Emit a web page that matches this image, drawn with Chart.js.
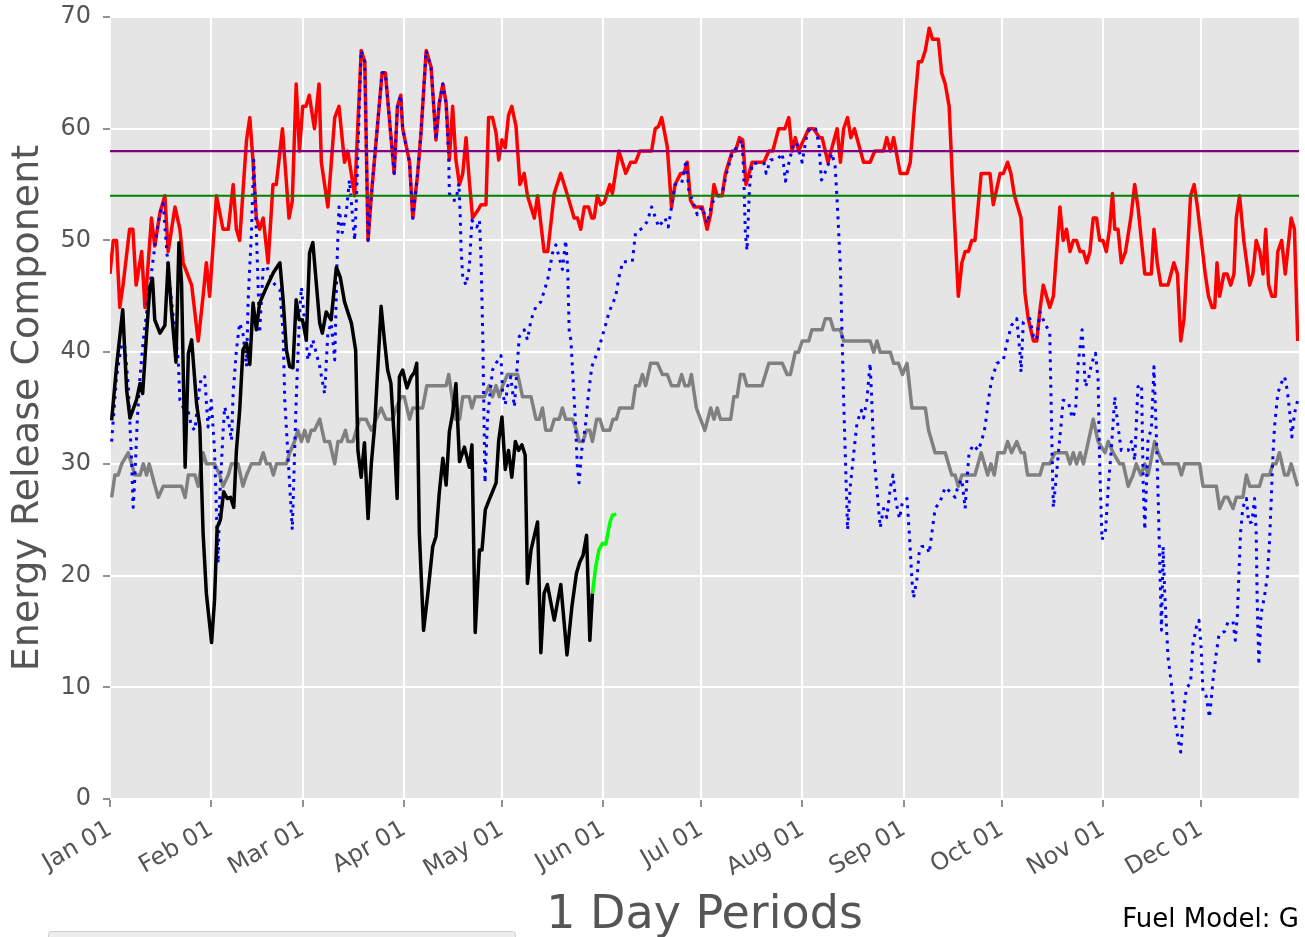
<!DOCTYPE html>
<html>
<head>
<meta charset="utf-8">
<script src="https://cdn.jsdelivr.net/npm/chart.js@4"></script>
<style>
  html, body { margin: 0; padding: 0; background: #fff; }
  #chart { display: block; }
</style>
</head>
<body>
<canvas id="chart" width="1305" height="937"></canvas>
<script>
// day of year (0 = Jan 01) and ERC values
const maxDays = [0,1,2,3,4,6,7,8,9.7,10.7,12.7,13.7,15.3,16.8,17.8,19.9,21.4,22.4,25,27,28.5,29.5,30.5,32.6,34.6,36.2,37.7,38.7,39.7,41.8,42.8,43.8,44.8,45.8,46.9,48.4,49.9,50.9,52.8,54.8,55.8,57,58,59,60,61,62.6,64,64.7,66.7,68.8,70.1,71.8,72.8,74.9,76.9,78,79,80,83.3,84.3,87,88,89,89.6,91.7,92.7,94.2,95.2,96.8,98.3,99.8,100.8,101.9,102.9,103.9,104.9,105.9,107,108,109,110,111,112.6,113.6,115.1,115.9,117.1,118.2,119,120,121,122,123,124.3,125.5,126.8,127.8,129.9,130.9,132.9,134,136,138,140.1,142.1,143.1,144.1,145.2,146.5,147.5,148.2,149.2,150.2,151.3,153,153.8,155.8,157.9,159.4,160.9,162.2,165.8,166.9,167.9,168.9,170.6,171.9,173,174.7,175.7,176.7,177.7,178.8,181.3,182.8,183.9,184.9,185.9,187.4,188.4,190.5,191.5,192.7,193.7,194.7,196.6,200.2,201.7,202.9,204.7,206.6,207.8,208.8,209.8,210.8,213.9,215.4,217.2,218,219.8,222.6,223.6,224.6,225.8,226.8,227.9,230.7,232.7,234.1,236.8,237.8,238.9,239.9,241.9,244,245,246.3,247.5,248.5,249.6,250.8,251.8,253.6,254.6,255.7,256.9,257.9,259.7,260.8,261.8,262.8,263.8,264.8,266.7,269.4,270.4,272.5,273.5,274.8,275.8,276.9,278.9,280.1,281.1,282.7,283.7,284.7,285.7,287.7,288.8,289.8,290.8,291.8,292.8,293.9,294.9,295.9,297,298,299,300,301,302,303,304,305,306,306.9,307.6,308.6,309.6,310.9,312.5,313.7,314.7,316.8,318.8,319.6,320.6,321.7,323.9,325.7,326.8,327.8,328.8,330.8,331.9,332.9,334.1,335.3,336.3,337.4,338.2,338.9,339.7,341,342,343.1,344.1,344.8,345.8,347.1,348.9,349.9,350.9,352,353,353.8,354.7,355.7,356.7,357.5,358.7,359.8,361.6,362.6,363.6];
const maxVals = [47,50,50,44,46,51,51,46,49,44,52,49.5,52.5,54,49,53,51,48,46,41,45,48,45,54,51,51,55,51,50,59,61,57,52,51,52,48,55,55,60,52,53.5,64,58,62,62,63,60,64,57,53,61,62,57,58,54,67,66,50,54,65,65,56,62,63,60,57,52,56,59.6,67,65.5,59,62.3,64,62.3,57.2,62,57.2,55,56,59.2,55.3,52,52.7,53.2,53.2,61,61,59.6,57.2,59,58.3,61.2,62,60.2,55,56,54,52,54,49,49,54.2,56,54,52,52,51,53,53,52,52,54,53.2,53.4,55,54.2,58,56,57,57,58,58,60,60.2,61,58.4,53,55,56,56,57,53.6,53,53,51,52.4,55,54,54,56,58,58,59.2,59,55,57,57,58,58,60,60,61,58,59.2,58,60,60,59.2,59.2,57,60,57,60,61,59.2,60,57,57,58,58,59.2,58,59.2,56,56,57,62,66,66,67,69,68,68,65,64,62,55.4,45,48,49,49,50,50,56,56,53.2,56,56,57,56,54,52,45.3,43,41,41,43.8,46,44,45,49,53,50,51,49,50,50,49,49,48,49,52,52,50,50,49,51,54.2,51,51,48,49,52,55,53,47,47,51,48,46,46,48,47,41,43,54,55,53,50,47,45,44,44,48,45,47,47,46,47,52,54,50,46,47,50,49,47,51,46,45,45,49,50,47,52,51,41];

const minDays = [0.5,2,3.6,4.6,5.6,6.6,7.1,7.6,8.4,9.2,10.2,11.7,13.2,14.3,15.3,16.3,16.8,17.8,18.8,19.9,20.9,21.4,22.5,24,25,26,27,28,29,30,31,32,32.6,33.1,33.6,34.6,35.1,36.2,37.2,37.7,38.7,39.7,40.7,41.8,42.3,43.3,44,44.8,45.8,46.9,47.9,50,52,53,53.5,55.8,57,58,58.6,59.6,60.6,62.1,64.2,65.7,66.7,67.7,68.8,69.5,70.1,71.1,72.3,73.3,74.9,75.4,76.4,76.9,78,79,80,83.3,84.3,87,88,89,89.6,91.7,92.7,94.2,95.2,96.8,98.3,99.8,100.8,101.9,102.9,103.7,103.9,104.9,105.9,106.8,107.2,107.5,108,109,110,110.8,112.3,113.1,113.6,114.1,114.8,115.6,117.1,118.2,119.7,120.2,121,121.7,122.7,123.8,124.5,125.3,126.8,127.8,128.9,130.4,131.9,134,135.5,136.5,138.5,139.5,140.1,140.6,141.1,142.4,143.1,143.6,144.4,145.5,146.5,147.5,149.5,151.3,152.8,154.8,155.8,157,159.9,160.9,163,164.5,165.8,166.9,168,169.9,170.9,171.9,173,175,176.4,177.2,178.3,179.8,181.3,182.8,184.4,185.9,187.4,189,190.5,192,193.5,194,194.5,195,195.8,196.6,200.2,200.9,202.2,204.5,205.8,206.8,207.8,209.3,210.3,211.9,213.4,214.4,216,217,217.8,218.8,220,221,222,222.6,223.6,224.1,224.6,225.8,226.6,227.7,228.7,230,230.7,231.7,232.7,233.3,233.8,234.8,235.8,236.8,237.8,238.9,239.7,240.6,241.7,242.6,244,244.7,245.5,246,247,247.7,248.5,250.1,250.8,251.6,252.6,254.1,255.7,257.2,258.7,259.7,260.8,261.8,262.3,263,264.3,265.8,266.9,267.9,268.9,269.9,271.5,273.5,274.5,276,277.6,278.1,278.6,278.9,279.6,281.6,282.7,283.7,284.7,285.7,287.7,288.1,288.5,288.8,289.8,290.5,291.1,291.8,293.4,294.6,295.6,296.4,297.6,298.6,299.5,300.5,301.7,302.5,303,303.7,304.8,305.6,306.6,307.6,308.6,309.6,311.7,312.7,313.7,314.7,315.8,316.3,316.8,317.8,318.8,319.6,320.3,320.9,321.4,321.9,322.4,322.9,323.9,324.9,326,327,327.8,328.5,329.5,330.8,331.5,332.6,333.4,334.1,334.6,335.6,336.6,337.7,338.7,339.5,341.2,342.2,343.8,344.5,345.1,345.5,346.1,346.8,347.9,348.6,349.6,350.4,350.9,351.2,351.7,352.4,353.4,354.3,355,355.5,356,356.5,357.5,358.5,359.6,360.4,361.1,361.8,362.6,363.6];
const minVals = [32,37.8,40.8,40.4,36.9,30.3,26.1,28.8,34.2,37.8,41.1,44.7,48.3,50.7,52.4,53.3,51.2,47.6,44.7,41.7,39.3,35.7,35,34.6,33.3,33,36,37.8,37.8,33.3,35.7,31.2,25.6,21.1,27,32.8,35.1,34,32.1,36.3,40.2,42.6,41.7,38.7,44.7,50.7,57.2,50.9,41.7,47.6,47.7,46.2,45.6,41.7,35.7,24.1,35.7,43.2,45.8,42.6,39.3,41.1,38.7,36.3,41.7,42.6,39.3,48,53,50.7,52.4,55.4,50,53.4,62.6,67,66,50,54,65,65,56,62,63,60,57,52,56,59.6,67,65.5,59,62.3,64,62.3,57.2,54.2,53.6,53.6,55.1,52.4,49.1,46.7,46,47.6,51.8,51.2,51.8,48.3,41.7,28.3,34.2,38.4,39,39.7,36.3,35.3,36.9,37.8,35.1,38.1,41.4,42,41.1,42.9,44.1,44.5,46.5,48.9,49.6,47.4,50,47.6,41.7,41.1,34.2,29.7,28.3,31.2,33.3,36.3,38.7,40.2,42,43.6,45,46.7,48.1,48.1,50.7,51.1,51.7,53,52.1,51.2,52,51.2,53,55,55.1,57.2,54.5,53.6,52.3,53,51.5,53.4,53.9,54.2,56.3,57.8,58.4,59,56,50.7,49.1,54.8,56.9,56.9,56,57.2,57.3,57.8,55.3,56.9,58.7,58.7,57,59.6,60,60,58.7,55.4,56,56.9,57.8,56.6,53.6,47.6,41.7,35.7,24.1,27.9,31,33.7,34.8,34.1,35.7,39,35.1,31,27.7,24.3,26,25.2,27.9,29,26.6,25.1,26.6,26.9,23.8,19.6,18,19.6,22,22.6,22.6,22,23.8,26,26.6,27.9,27.5,27,28.1,28.6,26,28.4,31,31.7,31.2,32.1,33.3,35.7,37.5,39,39.3,40.8,42.4,43,41.4,39.9,38.2,42.7,43,41.4,41.1,43.6,42.9,41.7,35.7,29.7,26.1,29.2,31.5,33.3,35.7,35.5,34.1,34.8,39,42,36.9,37.5,39,39.9,37.5,29.7,23.2,24.1,27.9,31.5,36,33.3,31.2,31.2,32,30.3,36.9,37.1,28.3,24.1,32.4,33,38.7,32.8,26.8,20.8,15.1,22.6,18.4,12.7,10.4,7.1,5.3,4.2,7.3,9.9,10.4,13.8,15.4,16,13.3,9.5,9.2,7.3,10.7,13.1,14.7,15,15.8,15.9,14.2,16.3,19.3,23.8,26.1,26.9,24.7,24.8,26.9,23.8,17.8,12,16.6,18.1,19.9,23.2,26.8,30.6,33.3,36.3,37.2,37.8,36.6,34.8,32.4,34.5,35.7];

const avgDays = [0.5,1.5,2.5,3.6,5.6,6.6,7.6,9.2,10.2,11.2,12,13.8,14.8,16.3,21.9,23,24,26,27,28.5,29.5,32,33.6,34.6,36.2,37.2,39.2,40.7,41.8,43.3,45.8,46.9,47.9,49,50,51,54,55,56.5,57.5,58.6,59.6,60.6,61.6,62.6,64.2,65.7,67.2,68.8,69.8,70.8,72.1,72.8,74.4,75.4,76.4,78.4,80,81.5,83,84.5,86.6,87.6,89.1,90.1,91.7,92.7,95.7,97,102.9,103.7,104.7,105.7,107,108,110,110.8,111.8,114.6,116.1,117.1,118.2,119.2,120.2,121.7,124.8,126.3,128.9,130.4,131.4,132.4,133.4,135,136,137.5,138.5,139.5,141.6,142.8,143.6,144.8,145.9,146.9,147.7,149,150,151,153,154,155,156,159.9,160.9,162,163,164,165.5,167.6,169.1,170.6,171.9,174,175,176,177.2,178,179.5,180.8,182.1,183.9,184.9,185.9,186.9,190,191,192,193,194,195,199.6,201.7,205.8,207.3,208.3,209.8,210.8,211.9,213.9,214.9,218,219,220.5,221.5,223.6,224.6,232.7,233.8,234.8,235.8,238.9,239.9,241.4,242.6,244,245.5,249.6,250.6,252.6,255.7,257.7,258.7,259.7,260.8,264.8,266.7,268.7,269.7,270.7,271.8,273.8,274.8,276,277.6,278.9,279.9,280.9,284.7,285.7,287.7,289.3,292.8,293.9,294.9,295.9,297,298,299.5,301,302.5,304.6,305.6,307.1,309.1,310.2,311.7,313.2,314.2,315.6,316.8,317.8,319.8,320.9,322.4,327,328,329,333.6,334.6,338.7,339.7,341.2,342.2,343.8,344.8,346.8,347.9,348.9,351.9,352.9,355,356,357,358,359.6,360.6,361.6,362.6,363.6];
const avgVals = [27,29,29,30,31,30,29,29,30,29,30,28,27,28,28,27,29,29,28,31,30,30,29,28,29,30,30,28,29,30,30,31,30,30,29,30,30,31,32,33,32,33,32,33,33,34,32,32,30,32,32,33,32,32,33,34,34,33,34,35,34,34,35,36,36,34,35,35,37,37,38,36,34,34,36,36,35,36,36,37,36,37,36,37,38,38,36,36,34,34,35,33,33,34,34,35,34,34,33,32,32,33,33,32,34,34,33,33,34,34,35,35,37,37,38,37,39,39,38,38,37,37,38,37,37,38,35,34,33,35,34,35,34,34,36,36,38,38,37,37,39,39,38,38,40,40,41,41,42,42,43,43,42,42,41,41,40,41,40,40,39,39,38,39,35,35,33,31,31,29,29,28,29,29,31,29,30,29,31,31,32,31,32,31,31,29,29,30,30,31,31,30,31,30,31,30,32,34,32,31,32,31,30,30,28,29,30,29,30,29,32,31,30,30,29,30,30,28,28,26,27,27,26,27,27,29,28,28,29,29,30,30,31,29,29,30,29,28];

const curDays = [0.5,2,3.9,5.1,6.1,8.1,9.2,10,11.2,12.2,13,13.7,15.3,16.8,17.8,18.8,20.2,21.1,21.9,23,24,25,26.5,27.5,28.5,29.5,31.1,32,32.8,33.8,34.8,35.9,36.9,37.9,38.7,39.7,40.7,41.8,42.8,43.8,44.8,45.8,47.9,50,52,53,54,55,56,57,57.9,58.9,60.1,61.1,62.1,64.2,65,66.2,67.7,69.3,70.5,71.8,73.9,75.2,75.9,76.9,77.9,79,80,81,82,83,84,85,86,87.1,87.9,88.6,89.6,90.9,92.2,93.2,93.9,94.7,96,97.3,98.8,99.8,100.8,101.9,102.9,103.9,104.9,105.9,107,108.5,110,110.8,111.8,113.1,113.9,114.9,116.1,118.2,119,120,121,122,123,124.1,125.1,126.1,127.1,127.8,128.9,130.9,131.9,132.9,133.9,136,138,139.9,141.4,142.8,143.8,144.8,145.9,146.9,147.7];
const curVals = [33.9,38.7,43.8,36.6,34.1,35.7,37.2,36.3,41.7,45.8,46.6,42.9,41.7,42.4,48,43.8,39.1,49.8,46.2,29.7,39.9,41.1,35.4,33.3,23.8,18.4,14,17.8,24.3,25,27.5,26.9,27,26.1,31.2,34.8,40.2,40.8,38.9,44.4,42,44.4,45.8,47.1,48,44.7,40.2,38.7,38.6,44.7,42.9,42.9,41.1,48.9,49.8,42.6,41.7,43.6,42.9,47.6,46.7,44.5,42.6,40.2,31.2,28.8,31.9,25.1,30,33.3,38.7,44.1,41.1,38.4,37.2,31.9,26.9,37.8,38.4,36.8,37.8,38.2,39,23.8,15.1,18.4,22.6,23.5,27.4,30.5,28.1,32.9,34.5,37.2,30.2,31.5,29.7,31.7,14.9,22.3,22.3,25.9,26.8,28.3,32.1,34.2,29.5,31.2,28.8,32,31.2,31.7,30.8,19.3,22.3,24.8,13.1,18.4,19.2,16,19.2,12.9,17.2,20.2,21.2,21.8,23.6,14.2,18.4];

const fcstDays = [147.7,148.7,149.7,150.8,151.8,153,153.8,155];
const fcstVals = [18.4,20.8,22.3,22.9,22.8,24.7,25.4,25.5];

// percentile lines
const upperLevel = 58;
const lowerLevel = 54;

const monthTicks = [0,31,59,90,120,151,181,212,243,273,304,334];
const monthLabels = ['Jan 01','Feb 01','Mar 01','Apr 01','May 01','Jun 01','Jul 01','Aug 01','Sep 01','Oct 01','Nov 01','Dec 01'];
const yTicks = [0,10,20,30,40,50,60,70];
const lastDay = 364;

function pts(days, vals) {
    return days.map((d, i) => ({ x: d, y: vals[i] }))
}

function line(data, color, width, order, extra) {
    return Object.assign({
        data: data,
        borderColor: color,
        borderWidth: width,
        pointRadius: 0,
        tension: 0,
        fill: false,
        borderJoinStyle: 'round',
        order: order
    }, extra || {})
}

// scale boxes are given fixed sizes so the plot lands where the reference has it
function fixBox(size) {
    return s => {
        if (s.isHorizontal()) s.height = size; else s.width = size;
        s.paddingTop = 0;
        s.paddingBottom = 0;
        s.paddingLeft = 0;
        s.paddingRight = 0;
    }
}

// gray panel behind the plot, plus the footer text and the clipped legend frame
const decor = {
    id: 'decor',
    beforeDraw(chart) {
        const { ctx, chartArea: a } = chart;
        ctx.save();
        ctx.fillStyle = '#fff';
        ctx.fillRect(0, 0, chart.width, chart.height);
        ctx.fillStyle = '#e5e5e5';
        ctx.fillRect(a.left, a.top, a.right - a.left, a.bottom - a.top);
        ctx.restore();
    },
    afterDraw(chart) {
        const { ctx } = chart;
        ctx.save();
        ctx.fillStyle = '#000';
        ctx.font = '26px "DejaVu Sans"';
        ctx.textAlign = 'right';
        ctx.textBaseline = 'alphabetic';
        ctx.fillText('Fuel Model: G', chart.chartArea.right, 927);
        ctx.fillStyle = '#ededed';
        ctx.strokeStyle = '#cfcfcf';
        ctx.lineWidth = 1;
        ctx.beginPath();
        ctx.roundRect(48.5, 931.5, 467, 20, 3);
        ctx.fill();
        ctx.stroke();
        ctx.restore();
    }
};

Chart.defaults.font.family = '"DejaVu Sans"';

new Chart(document.getElementById('chart'), {
    type: 'line',
    data: {
        datasets: [
            line(pts(maxDays, maxVals), '#ff0000', 3.5, 6),
            line(pts(avgDays, avgVals), '#808080', 3.5, 5),
            line(pts(minDays, minVals), '#0000ff', 3, 4, { borderDash: [3, 5.5], borderCapStyle: 'butt' }),
            line(pts(curDays, curVals), '#000000', 3.5, 3),
            line(pts(fcstDays, fcstVals), '#00ff00', 3.5, 2),
            line([{ x: 0, y: upperLevel }, { x: lastDay, y: upperLevel }], '#800080', 2.2, 1),
            line([{ x: 0, y: lowerLevel }, { x: lastDay, y: lowerLevel }], '#008000', 2.2, 1)
        ]
    },
    options: {
        responsive: false,
        devicePixelRatio: 1,
        animation: false,
        layout: { autoPadding: false, padding: { top: 17, right: 6, left: 0, bottom: 0 } },
        plugins: { legend: { display: false }, tooltip: { enabled: false } },
        scales: {
            x: {
                type: 'linear',
                min: 0,
                max: lastDay,
                afterBuildTicks: s => { s.ticks = monthTicks.map(v => ({ value: v })) },
                afterFit: fixBox(138),
                border: { display: false },
                grid: { color: '#ffffff', lineWidth: 2, tickColor: '#555', tickLength: 8, tickWidth: 1.3 },
                ticks: {
                    callback: (v, i) => monthLabels[i],
                    minRotation: 30,
                    maxRotation: 30,
                    color: '#555',
                    font: { size: 24 },
                    padding: 8
                },
                title: { display: true, text: '1 Day Periods', color: '#555', font: { size: 46, lineHeight: 0.9 }, padding: 0 }
            },
            y: {
                min: 0,
                max: 70,
                afterBuildTicks: s => { s.ticks = yTicks.map(v => ({ value: v })) },
                afterFit: fixBox(110),
                border: { display: false },
                grid: { color: '#ffffff', lineWidth: 2, tickColor: '#555', tickLength: 7, tickWidth: 1.3 },
                ticks: { color: '#555', font: { size: 24 }, padding: 12 },
                title: { display: true, text: 'Energy Release Component', color: '#555', font: { size: 38 }, padding: { top: 5, bottom: 0 } }
            }
        }
    },
    plugins: [decor]
});
</script>
</body>
</html>
